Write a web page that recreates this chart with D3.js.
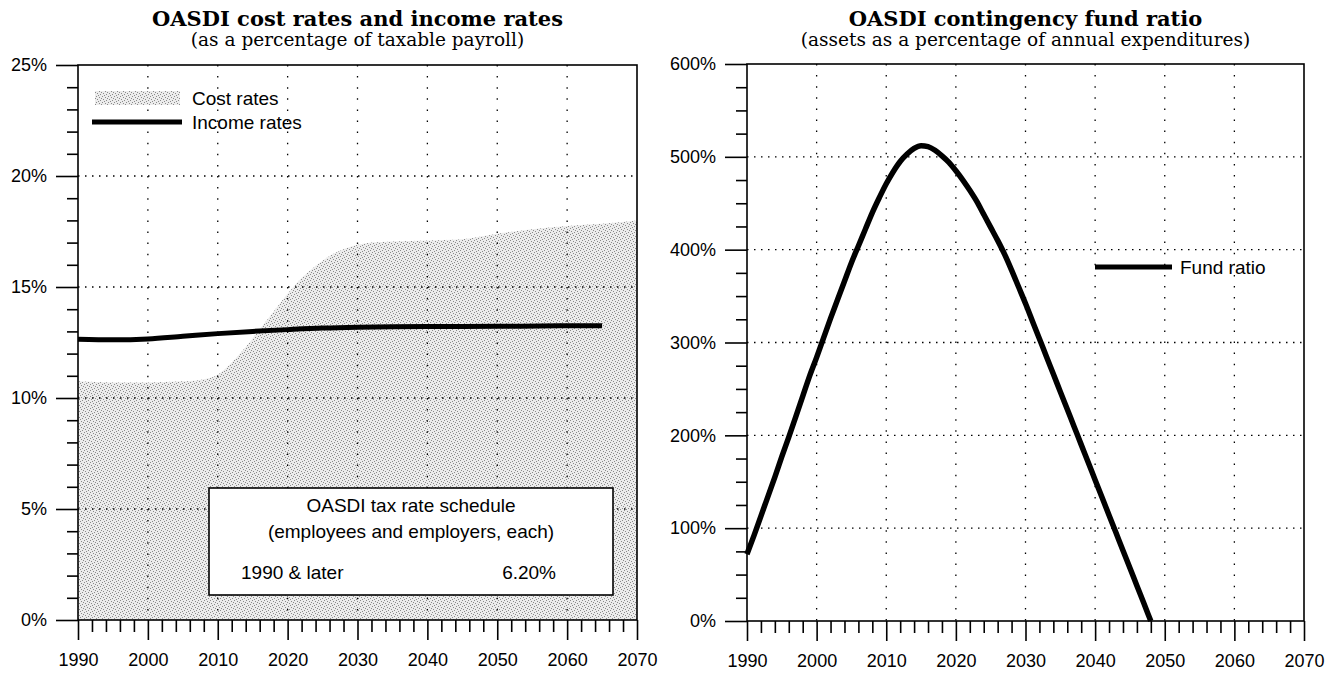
<!DOCTYPE html>
<html>
<head>
<meta charset="utf-8">
<script src="https://cdn.jsdelivr.net/npm/d3@7"></script>
<style>
  body { margin: 0; background: #fff; }
  svg text { fill: #000; }
  .lbl { font-family: 'Liberation Sans', Arial, sans-serif; font-size: 18px; }
  .txt { font-family: 'Liberation Sans', Arial, sans-serif; font-size: 19px; }
  .ttl { font-family: 'DejaVu Serif', serif; font-weight: bold; font-size: 21px; }
  .sub { font-family: 'DejaVu Serif', serif; font-size: 18.5px; }
</style>
</head>
<body>
<svg id="chart" width="1332" height="676"></svg>
<script>
// cost rates (% of taxable payroll)
const costYears = [1990, 1995, 2000, 2005, 2008, 2010, 2012, 2014, 2016, 2018, 2020, 2022, 2024, 2026, 2028, 2030, 2032, 2035, 2040, 2045, 2050, 2055, 2060, 2065, 2070]
const costRates = [10.75, 10.7, 10.7, 10.75, 10.85, 11.05, 11.6, 12.3, 13.1, 13.9, 14.7, 15.4, 15.95, 16.4, 16.7, 16.9, 17.0, 17.05, 17.1, 17.15, 17.4, 17.6, 17.75, 17.85, 18.0]

// income rates
const incomeYears = [1990, 1995, 2000, 2005, 2010, 2015, 2020, 2025, 2030, 2035, 2040, 2050, 2060, 2065]
const incomeRates = [12.65, 12.62, 12.66, 12.78, 12.9, 13.0, 13.08, 13.15, 13.19, 13.21, 13.22, 13.23, 13.25, 13.25]

// contingency fund ratio (%)
const fundYears = d3.range(1990, 2049)
const fundRatio = [72, 92, 113, 134, 155, 177, 198, 220, 242, 264,
  284, 305, 326, 346, 366, 386, 404, 422, 440, 456,
  471, 484, 495, 503, 509, 512, 511, 507, 501, 494,
  485, 475, 464, 452, 438, 424, 410, 395, 378, 360,
  342, 323, 304, 285, 266, 247, 228, 209, 190, 171,
  152, 133, 114, 95, 76, 57, 38, 19, 0]

const yearTicks = d3.range(1990, 2071, 10)
const leftTicks = [0, 5, 10, 15, 20, 25]
const rightTicks = [0, 100, 200, 300, 400, 500, 600]

const svg = d3.select('#chart')

function buildStipple(svg) {
  const p = svg.append('defs').append('pattern')
    .attr('id', 'stipple')
    .attr('patternUnits', 'userSpaceOnUse')
    .attr('width', 6).attr('height', 6)
  p.append('rect').attr('width', 6).attr('height', 6).attr('fill', '#ececec')
  const dots = [[0, 0], [3, 1], [1, 3], [4, 4], [5, 2], [2, 5]]
  p.selectAll('rect.d').data(dots).enter().append('rect')
    .attr('class', 'd')
    .attr('x', (d) => d[0]).attr('y', (d) => d[1])
    .attr('width', 1).attr('height', 1)
    .attr('fill', '#8a8a8a')
}

function buildPanel(cfg) {
  const g = svg.append('g')
  const x = d3.scaleLinear().domain([1990, 2070]).range([cfg.x0, cfg.x1])
  const y = d3.scaleLinear().domain([0, cfg.max]).range([cfg.y1, cfg.y0])

  // titles
  const cx = (cfg.x0 + cfg.x1) / 2
  g.append('text').attr('class', 'ttl').attr('x', cx).attr('y', 26)
    .attr('text-anchor', 'middle').text(cfg.title)
  g.append('text').attr('class', 'sub').attr('x', cx).attr('y', 46)
    .attr('text-anchor', 'middle').text(cfg.subtitle)

  return { g, x, y }
}

function buildGrid(p, cfg, yMajor) {
  p.g.append('g').selectAll('line')
    .data(yearTicks.slice(1, -1)).enter().append('line')
    .attr('x1', (d) => p.x(d)).attr('x2', (d) => p.x(d))
    .attr('y1', cfg.y0).attr('y2', cfg.y1)
    .attr('stroke', '#000').attr('stroke-width', 1.3)
    .attr('stroke-dasharray', '1.5,9.6')
  p.g.append('g').selectAll('line')
    .data(yMajor.slice(1, -1)).enter().append('line')
    .attr('x1', cfg.x0).attr('x2', cfg.x1)
    .attr('y1', (d) => p.y(d)).attr('y2', (d) => p.y(d))
    .attr('stroke', '#000').attr('stroke-width', 1.3)
    .attr('stroke-dasharray', '1.5,5.5')
}

function buildAxes(p, cfg, yMajor, yMinor, fmt) {
  const g = p.g
  // minor y ticks
  g.append('g').attr('transform', `translate(${cfg.x0},0)`)
    .call(d3.axisLeft(p.y).tickValues(yMinor).tickSize(11).tickFormat(''))
    .call((a) => a.select('.domain').remove())
  // major y ticks + labels
  g.append('g').attr('transform', `translate(${cfg.x0},0)`)
    .call(d3.axisLeft(p.y).tickValues(yMajor).tickSize(22).tickPadding(9).tickFormat(fmt))
    .call((a) => a.select('.domain').remove())
    .selectAll('text').attr('class', 'lbl').attr('font-size', null).attr('font-family', null)
  // minor x ticks
  g.append('g').attr('transform', `translate(0,${cfg.y1})`)
    .call(d3.axisBottom(p.x).tickValues(d3.range(1992, 2070, 2).filter((v) => v % 10)).tickSize(12).tickFormat(''))
    .call((a) => a.select('.domain').remove())
  // major x ticks + labels
  g.append('g').attr('transform', `translate(0,${cfg.y1})`)
    .call(d3.axisBottom(p.x).tickValues(yearTicks).tickSize(20).tickPadding(13).tickFormat(d3.format('d')))
    .call((a) => a.select('.domain').remove())
    .selectAll('text').attr('class', 'lbl').attr('font-size', null).attr('font-family', null)

  g.selectAll('.tick line').attr('stroke', '#000').attr('stroke-width', 1.6)

  // frame
  g.append('rect')
    .attr('x', cfg.x0).attr('y', cfg.y0)
    .attr('width', cfg.x1 - cfg.x0).attr('height', cfg.y1 - cfg.y0)
    .attr('fill', 'none').attr('stroke', '#000').attr('stroke-width', 1.6)
}

buildStipple(svg)

// ---- left panel ----
const L = { x0: 78, x1: 637, y0: 65, y1: 620, max: 25,
  title: 'OASDI cost rates and income rates',
  subtitle: '(as a percentage of taxable payroll)' }
const lp = buildPanel(L)

const costData = costYears.map((yr, i) => ({ yr, v: costRates[i] }))
lp.g.append('path')
  .datum(costData)
  .attr('fill', 'url(#stipple)')
  .attr('d', d3.area().x((d) => lp.x(d.yr)).y0(lp.y(0)).y1((d) => lp.y(d.v)).curve(d3.curveMonotoneX))

buildGrid(lp, L, leftTicks)

const incomeData = incomeYears.map((yr, i) => ({ yr, v: incomeRates[i] }))
lp.g.append('path')
  .datum(incomeData)
  .attr('fill', 'none').attr('stroke', '#000').attr('stroke-width', 5)
  .attr('d', d3.line().x((d) => lp.x(d.yr)).y((d) => lp.y(d.v)).curve(d3.curveMonotoneX))

buildAxes(lp, L, leftTicks, d3.range(1, 25).filter((v) => v % 5), (d) => d + '%')

// legend
const lg = lp.g.append('g')
lg.append('rect').attr('x', 95).attr('y', 91).attr('width', 85).attr('height', 14).attr('fill', 'url(#stipple)')
lg.append('text').attr('class', 'txt').attr('x', 192).attr('y', 98).attr('dy', '0.35em').text('Cost rates')
lg.append('line').attr('x1', 92).attr('x2', 182).attr('y1', 122).attr('y2', 122).attr('stroke', '#000').attr('stroke-width', 5)
lg.append('text').attr('class', 'txt').attr('x', 192).attr('y', 122).attr('dy', '0.35em').text('Income rates')

// tax rate box
const box = lp.g.append('g')
box.append('rect').attr('x', 209).attr('y', 488).attr('width', 404).attr('height', 107)
  .attr('fill', '#fff').attr('stroke', '#000').attr('stroke-width', 1.6)
box.append('text').attr('class', 'txt').attr('x', 411).attr('y', 505).attr('dy', '0.35em')
  .attr('text-anchor', 'middle').text('OASDI tax rate schedule')
box.append('text').attr('class', 'txt').attr('x', 411).attr('y', 531).attr('dy', '0.35em')
  .attr('text-anchor', 'middle').text('(employees and employers, each)')
box.append('text').attr('class', 'txt').attr('x', 241).attr('y', 572).attr('dy', '0.35em').text('1990 & later')
box.append('text').attr('class', 'txt').attr('x', 556).attr('y', 572).attr('dy', '0.35em')
  .attr('text-anchor', 'end').text('6.20%')

// ---- right panel ----
const R = { x0: 747, x1: 1304, y0: 64, y1: 621, max: 600,
  title: 'OASDI contingency fund ratio',
  subtitle: '(assets as a percentage of annual expenditures)' }
const rp = buildPanel(R)
buildGrid(rp, R, rightTicks)

const fundData = fundYears.map((yr, i) => ({ yr, v: fundRatio[i] }))
rp.g.append('path')
  .datum(fundData)
  .attr('fill', 'none').attr('stroke', '#000').attr('stroke-width', 5.5)
  .attr('d', d3.line().x((d) => rp.x(d.yr)).y((d) => rp.y(d.v)).curve(d3.curveMonotoneX))

buildAxes(rp, R, rightTicks, d3.range(25, 600, 25).filter((v) => v % 100), (d) => d + '%')

const rl = rp.g.append('g')
rl.append('line').attr('x1', 1095).attr('x2', 1172).attr('y1', 267).attr('y2', 267).attr('stroke', '#000').attr('stroke-width', 5)
rl.append('text').attr('class', 'txt').attr('x', 1180).attr('y', 267).attr('dy', '0.35em').text('Fund ratio')
</script>
</body>
</html>
